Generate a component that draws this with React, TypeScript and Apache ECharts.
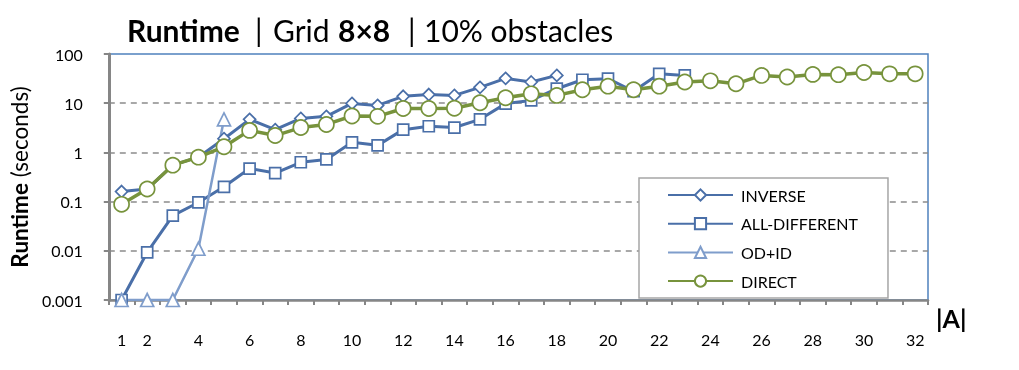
import React, { useEffect, useRef } from "react";
import * as echarts from "echarts";

const categories = ["1","2","3","4","5","6","7","8","9","10","11","12","13","14","15","16","17","18","19","20","21","22","23","24","25","26","27","28","29","30","31","32"];
const yTickLabels = ["0.001", "0.01", "0.1", "1", "10", "100"];

const inverse = [0.16, 0.18, 0.55, 0.8, 1.9, 4.7, 2.9, 4.9, 5.4, 9.9, 9, 13.8, 15, 14.4, 21, 32, 27, 36.7];
const allDifferent = [0.001, 0.0093, 0.052, 0.096, 0.2, 0.47, 0.38, 0.63, 0.72, 1.6, 1.39, 2.9, 3.4, 3.2, 4.7, 9.8, 11.4, 19.7, 30, 31.5, 17.5, 39.5, 36.7];
const odId = [0.001, 0.001, 0.001, 0.011, 4.7];
const direct = [0.088, 0.18, 0.55, 0.8, 1.3, 2.8, 2.2, 3.2, 3.7, 5.5, 5.4, 7.8, 7.8, 7.9, 10.2, 12.9, 15.5, 14.4, 18.8, 22.2, 18.8, 22.2, 27, 28.5, 24.8, 36.7, 34, 38.5, 38, 42, 39.5, 39.5];

const FONT = "Lato";
const DARK_BLUE = "#4A6FA8";
const LIGHT_BLUE = "#7F9DCB";
const GREEN = "#77933C";

export default function App() {
  const ref = useRef<HTMLDivElement>(null);
  useEffect(() => {
    if (!ref.current) return;
    const chart = echarts.init(ref.current, null, { renderer: "svg" });
    const mkSeries = (name: string, data: number[], color: string, symbol: string, size: number, width: number) => ({
      name,
      type: "line",
      data,
      symbol,
      symbolSize: size,
      showAllSymbol: true,
      lineStyle: { color, width },
      itemStyle: { color: "#ffffff", borderColor: color, borderWidth: 1.7 },
      emphasis: { disabled: true },
    });
    const tNorm = { fontFamily: FONT, fontSize: 30, fontWeight: "normal", color: "#000", lineHeight: 34 };
    const tBold = { ...tNorm, fontWeight: "bold" };
    chart.setOption({
      animation: false,
      title: {
        left: 122,
        top: 8,
        text: "{r|Runtime}{p||}{g|Grid}{e|8×8}{q||}{t|10% obstacles}",
        textStyle: {
          ...tNorm,
          rich: {
            r: { ...tBold, width: 128 },
            p: { ...tNorm, width: 18 },
            g: { ...tNorm, width: 65 },
            e: { ...tBold, width: 70 },
            q: { ...tNorm, width: 16 },
            t: { ...tNorm },
          },
        },
      },
      grid: {
        left: 104,
        right: 91,
        top: 54,
        bottom: 70,
        show: true,
        borderColor: "#4F81BD",
        borderWidth: 1.5,
        backgroundColor: "transparent",
      },
      legend: {
        orient: "vertical",
        left: 639,
        top: 178,
        padding: [9, 30, 9, 28],
        itemWidth: 65,
        itemHeight: 14,
        itemGap: 12.7,
        backgroundColor: "#fff",
        borderColor: "#A6A6A6",
        borderWidth: 1.5,
        textStyle: { fontFamily: FONT, fontSize: 16, color: "#000", padding: [0, 0, 0, 3] },
        data: ["INVERSE", "ALL-DIFFERENT", "OD+ID", "DIRECT"],
      },
      xAxis: {
        type: "category",
        data: categories,
        boundaryGap: true,
        axisLine: { lineStyle: { color: "#868686", width: 2.5 } },
        axisTick: { show: true, interval: 0, length: 5, lineStyle: { color: "#868686", width: 2 } },
        axisLabel: {
          interval: (index: number) => index === 0 || (index + 1) % 2 === 0,
          margin: 31,
          fontFamily: FONT,
          fontSize: 16,
          color: "#000",
        },
        splitLine: { show: false },
      },
      yAxis: {
        type: "log",
        logBase: 10,
        min: 0.001,
        max: 100,
        name: "{b|Runtime} (seconds)",
        nameLocation: "middle",
        nameRotate: 90,
        nameGap: 66,
        nameTextStyle: {
          fontFamily: FONT,
          fontSize: 22.5,
          color: "#000",
          rich: { b: { fontFamily: FONT, fontSize: 22.5, fontWeight: "bold", color: "#000" } },
        },
        axisLine: { show: true, lineStyle: { color: "#868686", width: 3 } },
        axisTick: { show: true, length: 5, lineStyle: { color: "#868686", width: 2 } },
        axisLabel: {
          margin: 26,
          fontFamily: FONT,
          fontSize: 16,
          color: "#000",
          formatter: (v: number) => yTickLabels[Math.round(Math.log10(v)) + 3] ?? "",
        },
        splitLine: {
          show: true,
          showMinLine: false,
          showMaxLine: false,
          lineStyle: { color: "#8C8C8C", width: 1.5, type: [6, 5] },
        },
      },
      graphic: [
        {
          type: "text",
          left: 936,
          top: 305,
          style: { text: "|A|", fontFamily: FONT, fontSize: 25, fontWeight: "bold", fill: "#000" },
        },
      ],
      series: [
        mkSeries("INVERSE", inverse, DARK_BLUE, "diamond", 12, 3),
        mkSeries("ALL-DIFFERENT", allDifferent, DARK_BLUE, "rect", 11, 3),
        mkSeries("OD+ID", odId, LIGHT_BLUE, "triangle", 13, 2.5),
        mkSeries("DIRECT", direct, GREEN, "circle", 15, 3.5),
      ],
    });
    return () => chart.dispose();
  }, []);
  return <div ref={ref} style={{ position: "fixed", left: 0, top: 0, width: 1019, height: 370 }} />;
}
